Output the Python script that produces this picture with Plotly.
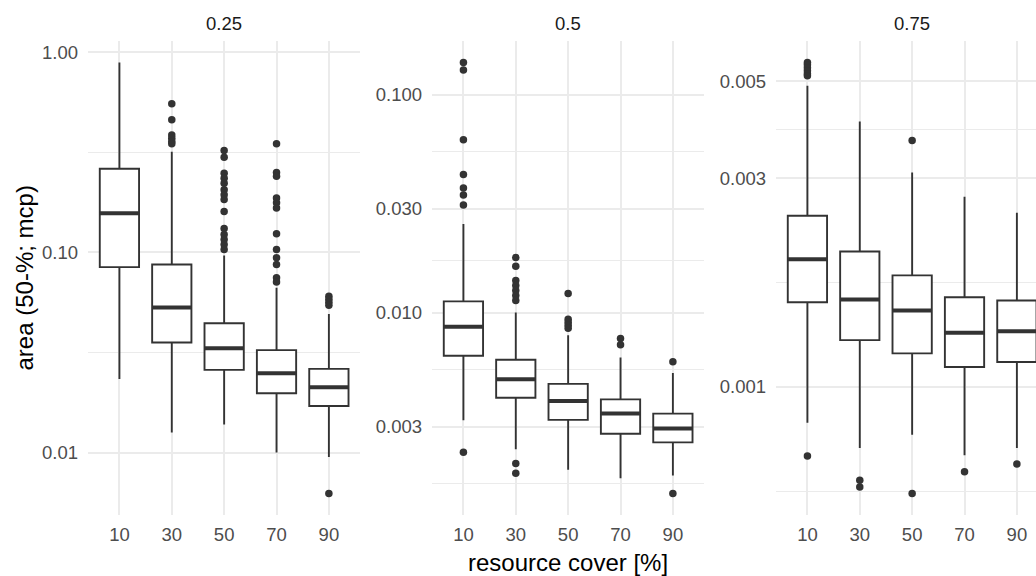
import numpy as np
import plotly.graph_objects as go

# ---- data -------------------------------------------------------------
cover = ["10", "30", "50", "70", "90"]
quantile_levels = ["0.25", "0.5", "0.75"]

# quantile 0.25
q25_lower = [0.0233, 0.0126, 0.0138, 0.0100, 0.00952]
q25_q1 = [0.0845, 0.0355, 0.0259, 0.0198, 0.0171]
q25_median = [0.157, 0.0531, 0.0332, 0.0249, 0.0212]
q25_q3 = [0.262, 0.0871, 0.0443, 0.0325, 0.0262]
q25_upper = [0.889, 0.319, 0.0966, 0.0667, 0.0492]
q25_outliers = [
    [],
    [0.553, 0.460, 0.386, 0.372, 0.358, 0.349],
    [0.323, 0.299, 0.249, 0.235, 0.222, 0.206, 0.194, 0.184, 0.160,
     0.1316, 0.123, 0.116, 0.1096, 0.1035],
    [0.349, 0.251, 0.240, 0.187, 0.177, 0.167, 0.124, 0.1035, 0.0941,
     0.0871, 0.0748, 0.0711],
    [0.0604, 0.0584, 0.0564, 0.0545, 0.00625],
]

# quantile 0.5
q50_lower = [0.00321, 0.00236, 0.00190, 0.00174, 0.00179]
q50_q1 = [0.00634, 0.00407, 0.00322, 0.00278, 0.00254]
q50_median = [0.00861, 0.00495, 0.00393, 0.00344, 0.00294]
q50_q3 = [0.01126, 0.00608, 0.00471, 0.00400, 0.00344]
q50_upper = [0.0255, 0.0100, 0.00788, 0.00623, 0.00529]
q50_outliers = [
    [0.1404, 0.1296, 0.0621, 0.0430, 0.0373, 0.0346, 0.0312, 0.00229],
    [0.01788, 0.01634, 0.01404, 0.01332, 0.01264, 0.01199, 0.01138,
     0.00203, 0.00183],
    [0.01224, 0.00932, 0.00903, 0.00875, 0.00848],
    [0.00761, 0.00712],
    [0.00595, 0.00148],
]

# quantile 0.75
q75_lower = [0.000827, 0.000724, 0.000777, 0.000697, 0.000724]
q75_q1 = [0.001561, 0.001279, 0.001193, 0.001110, 0.001140]
q75_median = [0.001960, 0.001584, 0.001495, 0.001330, 0.001341]
q75_q3 = [0.002464, 0.002040, 0.001799, 0.001603, 0.001576]
q75_upper = [0.004889, 0.004047, 0.003094, 0.002722, 0.002502]
q75_outliers = [
    [0.005524, 0.005458, 0.005373, 0.005288, 0.005205, 0.005150, 0.000694],
    [0.000611, 0.000590],
    [0.003664, 0.000570],
    [0.000639],
    [0.000666],
]

y_breaks = [
    [0.01, 0.1, 1.0],
    [0.003, 0.01, 0.03, 0.1],
    [0.001, 0.003, 0.005],
]
y_break_labels = [
    ["0.01", "0.10", "1.00"],
    ["0.003", "0.010", "0.030", "0.100"],
    ["0.001", "0.003", "0.005"],
]

panels = [
    (q25_lower, q25_q1, q25_median, q25_q3, q25_upper, q25_outliers),
    (q50_lower, q50_q1, q50_median, q50_q3, q50_upper, q50_outliers),
    (q75_lower, q75_q1, q75_median, q75_q3, q75_upper, q75_outliers),
]

# ---- styling / geometry -----------------------------------------------
W, H = 1036, 576
FONT = "Liberation Sans, Arial, sans-serif"
INK = "#333333"
GRID = "#EBEBEB"
BOX_W = 0.75

panel_px = [(88.0, 360.3), (432.0, 704.3), (776.0, 1048.3)]
top_px, bottom_px = 41.0, 515.0


def px_x(p):
    return p / W


def px_y(p):
    return 1 - p / H


def log_limits(values):
    lv = np.log10(values)
    span = lv.max() - lv.min()
    return [lv.min() - 0.05 * span, lv.max() + 0.05 * span]


def minor_breaks(breaks, limits):
    b = list(np.log10(breaks))
    bd = b[1] - b[0]
    if limits[0] < b[0]:
        b = [b[0] - bd] + b
    if limits[1] > b[-1]:
        b = b + [b[-1] + bd]
    mids = [(a + c) / 2 for a, c in zip(b[:-1], b[1:])]
    return [10 ** m for m in mids if limits[0] <= m <= limits[1]]


pos = list(range(1, len(cover) + 1))

fig = go.Figure()

for i, (lo, q1, med, q3, hi, outl) in enumerate(panels):
    xa = "x" if i == 0 else f"x{i + 1}"
    ya = "y" if i == 0 else f"y{i + 1}"

    fig.add_trace(go.Box(
        x=pos, q1=q1, median=med, q3=q3, lowerfence=lo, upperfence=hi,
        width=BOX_W, whiskerwidth=0, boxpoints=False,
        line=dict(color=INK, width=1.9), fillcolor="white",
        xaxis=xa, yaxis=ya, showlegend=False, hoverinfo="skip",
    ))

    # heavier median bars
    mx, my = [], []
    for p, m in zip(pos, med):
        mx += [p - BOX_W / 2, p + BOX_W / 2, None]
        my += [m, m, None]
    fig.add_trace(go.Scatter(
        x=mx, y=my, mode="lines", line=dict(color=INK, width=4),
        xaxis=xa, yaxis=ya, showlegend=False, hoverinfo="skip",
    ))

    ox, oy = [], []
    for p, pts in zip(pos, outl):
        ox += [p] * len(pts)
        oy += pts
    fig.add_trace(go.Scatter(
        x=ox, y=oy, mode="markers",
        marker=dict(color=INK, size=7.5, line=dict(width=0)),
        xaxis=xa, yaxis=ya, showlegend=False, hoverinfo="skip",
    ))

    all_vals = np.array(lo + hi + sum(outl, []))
    ylim = log_limits(all_vals)

    x0, x1 = panel_px[i]
    unit = (x1 - x0) / 5.2
    xr = [0.4, 0.4 + (min(x1, W) - x0) / unit]

    fig.layout[("xaxis" if i == 0 else f"xaxis{i + 1}")] = dict(
        domain=[px_x(x0), min(1.0, px_x(x1))], anchor=ya,
        range=xr, tickvals=pos, ticktext=cover,
        showgrid=True, gridcolor=GRID, gridwidth=2,
        zeroline=False, showline=False, ticks="",
        tickfont=dict(family=FONT, size=18.5, color="#4D4D4D"),
        ticklabelstandoff=6,
    )
    fig.layout[("yaxis" if i == 0 else f"yaxis{i + 1}")] = dict(
        domain=[px_y(bottom_px), px_y(top_px)], anchor=xa,
        type="log", range=ylim,
        tickvals=y_breaks[i], ticktext=y_break_labels[i],
        showgrid=True, gridcolor=GRID, gridwidth=2,
        minor=dict(tickvals=minor_breaks(y_breaks[i], ylim), showgrid=True,
                   gridcolor=GRID, gridwidth=1, ticks=""),
        zeroline=False, showline=False, ticks="",
        tickfont=dict(family=FONT, size=18.5, color="#4D4D4D"),
        ticklabelstandoff=9,
    )

    # facet strip label
    fig.add_annotation(
        x=px_x((x0 + x1) / 2), y=px_y(23.5), xref="paper", yref="paper",
        text=quantile_levels[i], showarrow=False,
        xanchor="center", yanchor="middle",
        font=dict(family=FONT, size=18.5, color="#1A1A1A"),
    )

fig.add_annotation(
    x=px_x(568), y=px_y(562), xref="paper", yref="paper",
    text="resource cover [%]", showarrow=False,
    xanchor="center", yanchor="middle",
    font=dict(family=FONT, size=24, color="black"),
)
fig.add_annotation(
    x=px_x(24), y=px_y(278.5), xref="paper", yref="paper",
    text="area (50-%; mcp)", showarrow=False, textangle=-90,
    xanchor="center", yanchor="middle",
    font=dict(family=FONT, size=24, color="black"),
)

fig.update_layout(
    width=W, height=H,
    margin=dict(l=0, r=0, t=0, b=0),
    paper_bgcolor="white", plot_bgcolor="white",
    boxmode="overlay",
)

fig.write_html("out.html")
